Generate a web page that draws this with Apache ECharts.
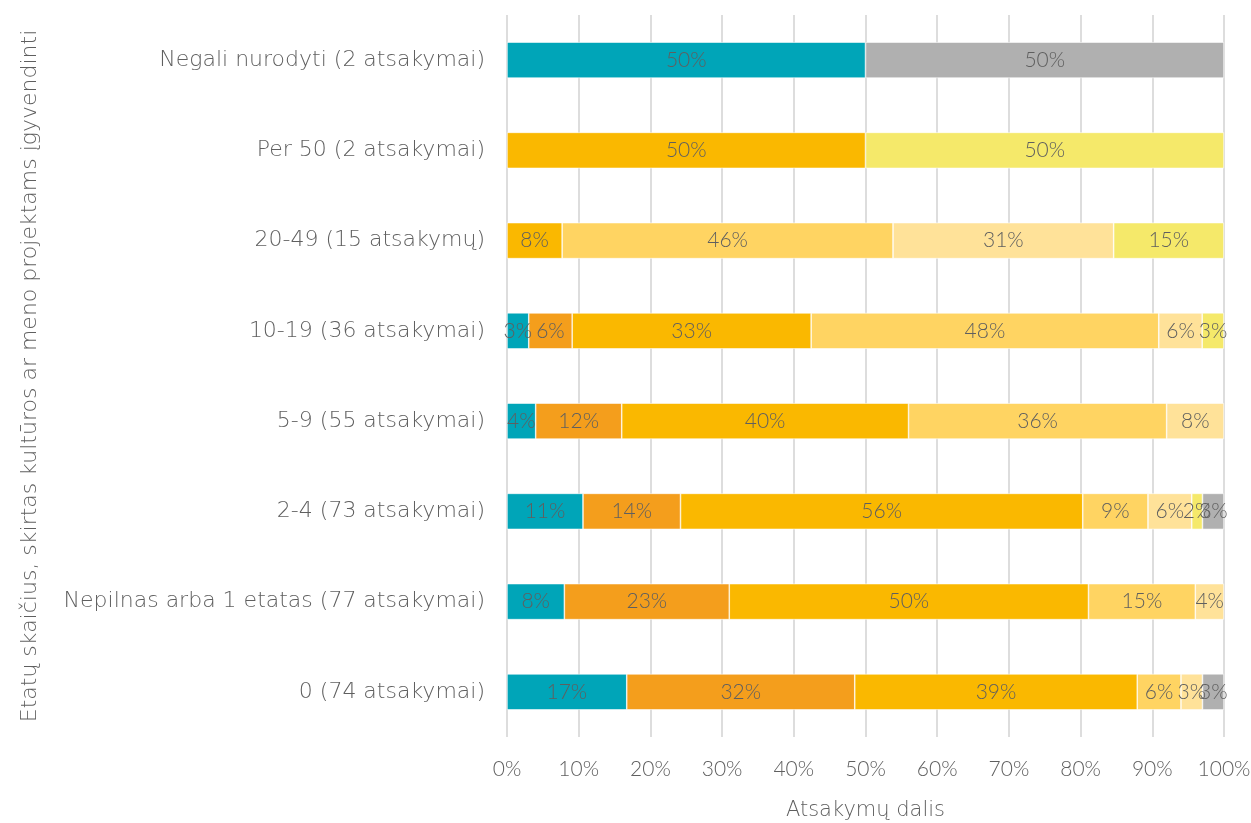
<!DOCTYPE html>
<html>
<head>
<meta charset="utf-8">
<script src="https://cdn.jsdelivr.net/npm/echarts@6/dist/echarts.min.js"></script>
<style>
  html, body { margin: 0; padding: 0; background: #fff; }
  #chart { width: 1251px; height: 823px; }
</style>
</head>
<body>
<div id="chart"></div>
<script>
// categories, bottom to top
const categories = [
  '0 (74 atsakymai)',
  'Nepilnas arba 1 etatas (77 atsakymai)',
  '2-4 (73 atsakymai)',
  '5-9 (55 atsakymai)',
  '10-19 (36 atsakymai)',
  '20-49 (15 atsakymų)',
  'Per 50 (2 atsakymai)',
  'Negali nurodyti (2 atsakymai)',
]

// shares in %, one array per stack segment
const tealVals = [16.7, 8.0, 10.6, 4, 3.03, null, null, 50]
const orangeVals = [31.8, 23.0, 13.6, 12, 6.06, null, null, null]
const amberVals = [39.4, 50.1, 56.1, 40, 33.33, 7.69, 50, null]
const lightVals = [6.1, 14.9, 9.1, 36, 48.48, 46.15, null, null]
const paleVals = [3.0, 4.0, 6.1, 8, 6.06, 30.77, null, null]
const yellowVals = [null, null, 1.5, null, 3.03, 15.38, 50, null]
const grayVals = [3.0, null, 3.0, null, null, null, null, 50]

const xTicks = [0, 10, 20, 30, 40, 50, 60, 70, 80, 90, 100]

const segments = [
  { data: tealVals, color: '#00A5B8' },
  { data: orangeVals, color: '#F49E1C' },
  { data: amberVals, color: '#FAB800' },
  { data: lightVals, color: '#FFD462' },
  { data: paleVals, color: '#FFE299' },
  { data: yellowVals, color: '#F5E96A' },
  { data: grayVals, color: '#B0B0B0' },
]

const textColor = '#5f5f5f'
const font = 'Lato'
const wideFont = 'DejaVu Sans'

const chart = echarts.init(document.getElementById('chart'))

chart.setOption({
  animation: false,
  textStyle: { fontFamily: font },
  grid: { left: 507, right: 27, top: 15, bottom: 86, outerBoundsMode: 'none' },
  xAxis: {
    type: 'value',
    min: 0,
    max: 100,
    interval: 10,
    name: 'Atsakymų dalis',
    nameLocation: 'middle',
    nameGap: 63,
    nameTextStyle: { color: textColor, fontSize: 21, fontFamily: wideFont, fontWeight: 200 },
    axisLine: { show: false },
    axisTick: { show: false },
    axisLabel: {
      color: textColor, fontSize: 21, fontWeight: 300, margin: 22,
      formatter: v => (xTicks.includes(v) ? v + '%' : ''),
    },
    splitLine: { show: true, lineStyle: { color: '#DDDDDD', width: 2 } },
  },
  yAxis: {
    type: 'category',
    data: categories,
    name: 'Etatų skaičius, skirtas kultūros ar meno projektams įgyvendinti',
    nameLocation: 'middle',
    nameGap: 466,
    nameRotate: 90,
    nameTextStyle: { color: textColor, fontSize: 22, fontFamily: wideFont, fontWeight: 200 },
    axisLine: { show: false },
    axisTick: { show: false },
    axisLabel: { color: textColor, fontSize: 22, fontFamily: wideFont, fontWeight: 200, margin: 22 },
  },
  series: segments.map(s => ({
    type: 'bar',
    stack: 'total',
    barWidth: 36,
    data: s.data,
    itemStyle: { color: s.color, borderColor: '#ffffff', borderWidth: 0.6 },
    label: {
      show: true,
      position: 'inside',
      color: textColor,
      fontSize: 21,
      fontWeight: 300,
      fontFamily: font,
      formatter: p => (p.value == null ? '' : Math.round(p.value) + '%'),
    },
  })),
})
</script>
</body>
</html>
